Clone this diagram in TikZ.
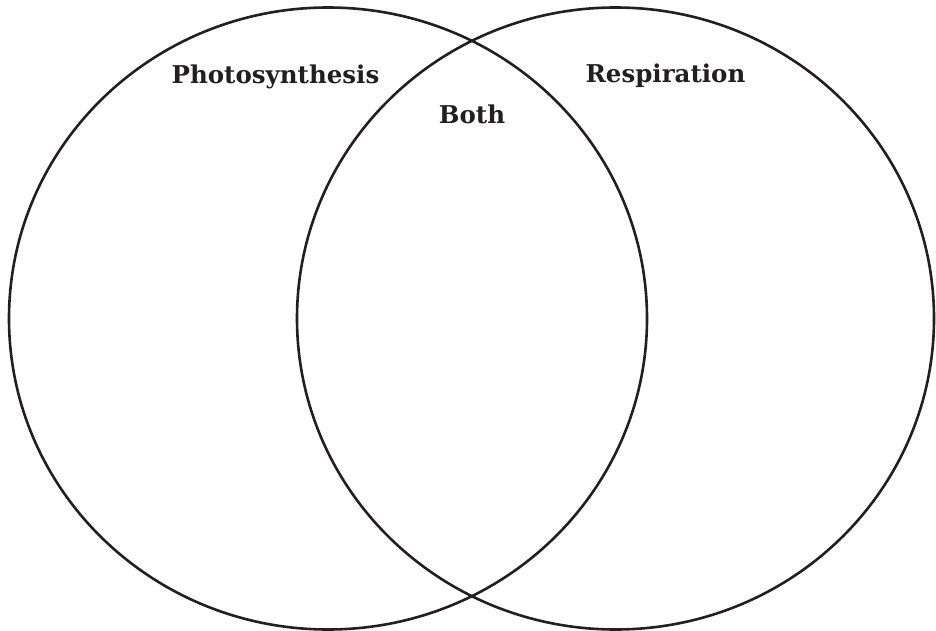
\documentclass[tikz,border=0pt]{standalone}
\usepackage{fontspec}
\setmainfont{DejaVu Serif}
\definecolor{ink}{HTML}{231F20}
\begin{document}
\begin{tikzpicture}[x=1pt,y=-1pt,
  ring/.style={draw=ink,line width=2.6pt},
  lbl/.style={anchor=base,inner sep=0pt,text=ink,font=\fontsize{24.5}{29}\selectfont\bfseries}]
\useasboundingbox (0,0) rectangle (936,631);
\draw[ring] (328,318.5) ellipse [x radius=319, y radius=311];
\draw[ring] (615.5,318.5) ellipse [x radius=318.5, y radius=311];
\node[lbl] (photo) at (275.5,84) {Photosynthesis};
\node[lbl] (both) at (472,124) {Both};
\node[lbl] (resp) at (665.5,83) {Respiration};
\end{tikzpicture}
\end{document}
